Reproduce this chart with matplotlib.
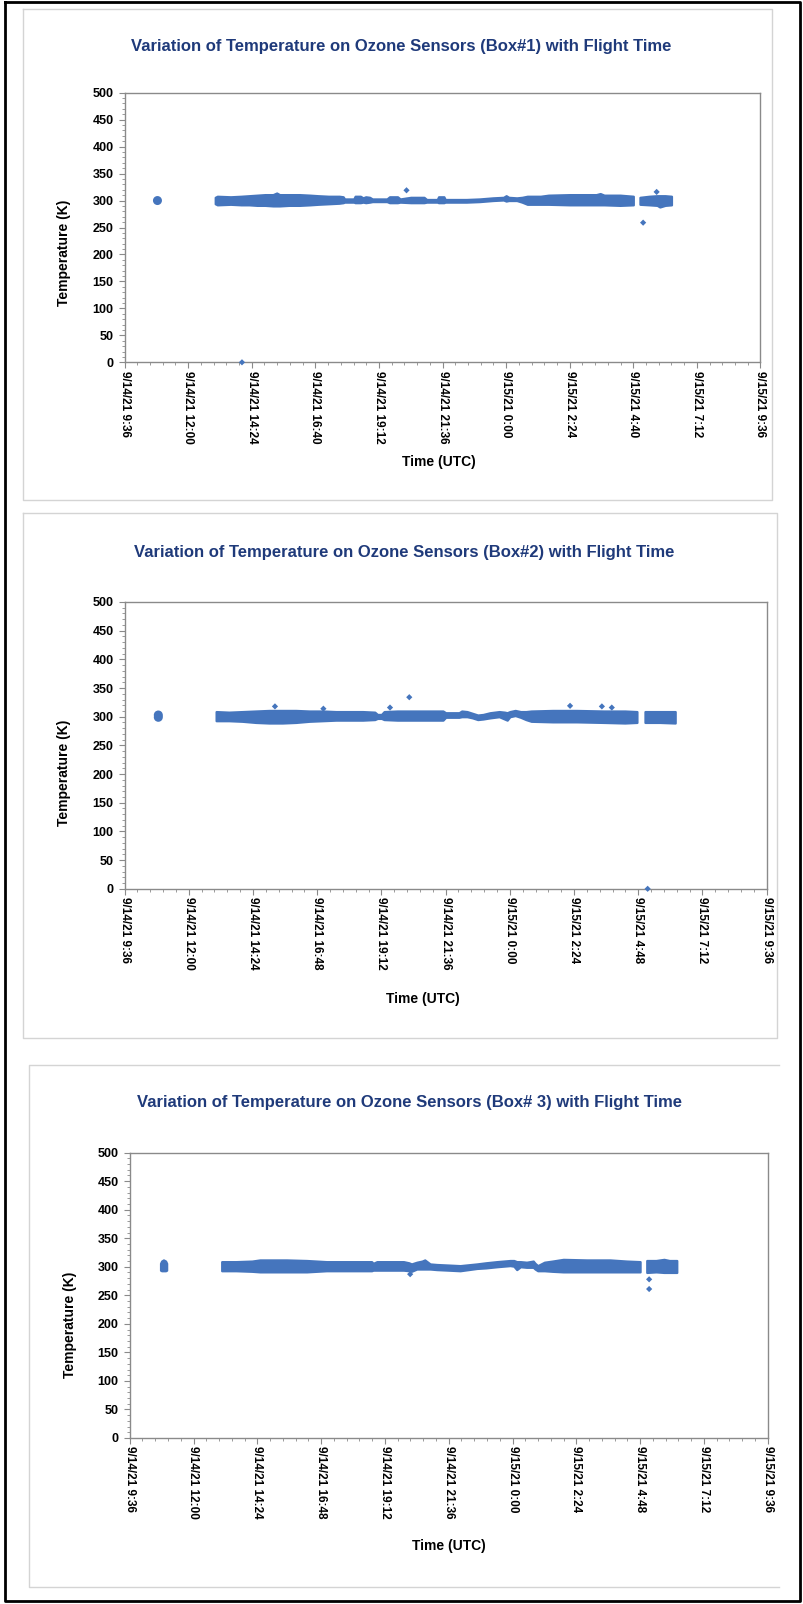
import matplotlib
matplotlib.use("Agg")
import matplotlib.pyplot as plt
from matplotlib.ticker import MultipleLocator, FixedLocator
from matplotlib.lines import Line2D

plt.rcParams['font.family'] = ['Liberation Sans', 'DejaVu Sans']

# ---------------- data (hours since 9/14/21 0:00, temperature K) ----------------
tick_hours = [9.6, 12.0, 14.4, 16.8, 19.2, 21.6, 24.0, 26.4, 28.8, 31.2, 33.6]
p1_tick_labels = ["9/14/21 9:36", "9/14/21 12:00", "9/14/21 14:24", "9/14/21 16:40",
                  "9/14/21 19:12", "9/14/21 21:36", "9/15/21 0:00", "9/15/21 2:24",
                  "9/15/21 4:40", "9/15/21 7:12", "9/15/21 9:36"]
p23_tick_labels = ["9/14/21 9:36", "9/14/21 12:00", "9/14/21 14:24", "9/14/21 16:48",
                   "9/14/21 19:12", "9/14/21 21:36", "9/15/21 0:00", "9/15/21 2:24",
                   "9/15/21 4:48", "9/15/21 7:12", "9/15/21 9:36"]

# Box 1 : dense band envelope
p1_band_t = [13.02, 13.1, 13.6, 14.0, 14.3, 14.6, 14.9, 15.2, 15.34, 15.45, 15.8, 16.2,
             16.6, 16.9, 17.3, 17.7, 17.85, 17.9, 18.25, 18.3, 18.5, 18.6, 18.7, 18.85,
             18.95, 19.5, 19.6, 19.9, 20.0, 20.4, 20.9, 21.0, 21.4, 21.45, 21.65, 21.7,
             22.5, 23.0, 23.5, 23.9, 24.0, 24.1, 24.4, 24.6, 24.8, 25.3, 25.6, 26.4,
             27.0, 27.4, 27.55, 27.7, 28.3, 28.8]
p1_band_lo = [294, 292, 293, 292, 292, 291, 291, 290, 290, 290, 291, 291,
              292, 293, 294, 295, 296, 297, 297, 296, 296, 297, 296, 297,
              298, 298, 296, 296, 297, 296, 296, 297, 297, 296, 296, 297,
              297, 298, 300, 301, 299, 300, 300, 297, 293, 293, 293, 292,
              292, 292, 292, 292, 291, 292]
p1_band_hi = [306, 308, 307, 308, 309, 310, 311, 311, 314, 311, 311, 311,
              310, 309, 308, 308, 307, 303, 303, 308, 308, 305, 307, 306,
              303, 303, 307, 307, 303, 306, 306, 302, 302, 307, 307, 302,
              302, 303, 305, 306, 309, 306, 305, 306, 308, 308, 310, 311,
              311, 311, 313, 310, 310, 308]
p1_band2_t = [29.05, 29.4, 29.7, 29.8, 30.0, 30.24]
p1_band2_lo = [293, 292, 291, 288, 291, 292]
p1_band2_hi = [306, 308, 309, 309, 309, 308]
p1_big_t = [10.84]
p1_big_y = [300]
p1_pts_t = [14.03, 20.24, 29.17, 29.68]
p1_pts_y = [0, 319, 259, 316]

# Box 2
p2_band_t = [13.02, 13.5, 14.0, 14.5, 15.0, 15.5, 16.0, 16.5, 17.0, 17.5, 18.5, 18.95,
             19.05, 19.2, 19.3, 19.8, 20.3, 21.0, 21.5, 21.6, 22.1, 22.2, 22.4, 22.6,
             22.8, 23.0, 23.26, 23.6, 23.8, 23.9, 24.0, 24.2, 24.4, 24.6, 24.8, 25.6,
             26.5, 27.5, 28.3, 28.75]
p2_band_lo = [293, 293, 292, 290, 289, 289, 290, 292, 293, 294, 294, 295,
              297, 297, 295, 294, 294, 294, 294, 299, 299, 300, 300, 298,
              295, 296, 298, 300, 296, 294, 300, 302, 299, 295, 292, 291,
              291, 290, 289, 290]
p2_band_hi = [309, 308, 309, 310, 311, 311, 311, 310, 310, 309, 309, 308,
              304, 304, 309, 310, 310, 310, 310, 307, 307, 310, 309, 306,
              303, 304, 307, 309, 308, 307, 309, 311, 309, 309, 310, 311,
              311, 310, 310, 309]
p2_band2_t = [29.05, 29.6, 30.18]
p2_band2_lo = [290, 290, 289]
p2_band2_hi = [309, 309, 309]
p2_big_t = [10.86, 10.86]
p2_big_y = [299, 303]
p2_pts_t = [15.22, 17.03, 19.52, 20.24, 26.25, 27.44, 27.81, 29.15]
p2_pts_y = [318, 314, 316, 334, 319, 318, 316, 0]

# Box 3
p3_band_t = [13.06, 13.6, 14.2, 14.5, 15.5, 16.26, 17.0, 18.7, 18.76, 18.9, 19.9, 20.1,
             20.2, 20.4, 20.6, 20.7, 20.9, 21.15, 21.6, 22.03, 22.66, 23.0, 23.41, 23.91,
             24.05, 24.16, 24.3, 24.53, 24.78, 24.85, 24.95, 25.2, 25.5, 25.91, 26.8,
             27.67, 28.3, 28.8]
p3_band_lo = [293, 293, 292, 291, 291, 291, 293, 293, 294, 294, 294, 293,
              292, 296, 296, 296, 296, 295, 294, 293, 297, 298, 300, 302,
              301, 295, 300, 299, 299, 296, 293, 293, 292, 291, 291,
              291, 291, 291]
p3_band_hi = [309, 309, 310, 312, 312, 311, 309, 309, 306, 309, 309, 307,
              305, 308, 310, 312, 305, 304, 303, 302, 305, 307, 309, 311,
              311, 309, 309, 308, 310, 306, 302, 308, 310, 313, 312,
              312, 310, 309]
p3_band2_t = [29.05, 29.4, 29.7, 29.9, 30.18]
p3_band2_lo = [290, 291, 290, 290, 290]
p3_band2_hi = [311, 311, 313, 311, 311]
p3_blob_t = [10.76, 10.8, 10.87, 10.95, 10.99]
p3_blob_lo = [294, 293, 293, 293, 294]
p3_blob_hi = [306, 310, 312, 310, 306]
p3_pts_t = [20.15, 29.14, 29.14]
p3_pts_y = [287, 278, 261]

titles = ["Variation of Temperature on Ozone Sensors (Box#1) with Flight Time",
          "Variation of Temperature on Ozone Sensors (Box#2) with Flight Time",
          "Variation of Temperature on Ozone Sensors (Box# 3) with Flight Time"]

# ---------------- figure ----------------
W, H = 804, 1604
fig = plt.figure(figsize=(W / 100, H / 100), dpi=100)
fig.patch.set_facecolor('white')

BLUE = '#4575bd'
TITLE_C = '#1f3a7a'
SPINE_C = '#8a8a8a'


def fx(x):
    return x / W


def fy(y):
    return 1 - y / H


def fig_line(xs, ys, color, lw):
    fig.add_artist(Line2D([fx(x) for x in xs], [fy(y) for y in ys],
                          transform=fig.transFigure, color=color, lw=lw,
                          solid_capstyle='projecting'))


# outer black border
fig_line([5, 800, 800, 5, 5], [2, 2, 1601, 1601, 2], 'black', 2.0)

# panel boxes
fig_line([23, 772, 772, 23, 23], [9, 9, 500, 500, 9], '#d4d4d4', 1.0)
fig_line([23, 777, 777, 23, 23], [513, 513, 1038, 1038, 513], '#d4d4d4', 1.0)
fig_line([779, 29, 29, 779], [1065, 1065, 1587, 1587], '#d4d4d4', 1.0)


def make_panel(rect, tick_labels, bands, big, pts, title, title_xy, xlab_xy, ylab_xy):
    left, top, right, bottom = rect
    ax = fig.add_axes([fx(left), fy(bottom), fx(right) - fx(left), fy(top) - fy(bottom)])
    for (t, lo, hi) in bands:
        ax.fill_between(t, lo, hi, color=BLUE, lw=1.6, edgecolor=BLUE, zorder=3,
                        joinstyle='round')
    if big is not None:
        ax.scatter(big[0], big[1], s=42, color=BLUE, edgecolors='none', zorder=4)
    ax.scatter(pts[0], pts[1], s=10, marker='D', color=BLUE, edgecolors='none', zorder=4,
               clip_on=False)
    ax.set_xlim(tick_hours[0], tick_hours[-1])
    ax.set_ylim(0, 500)
    ax.xaxis.set_major_locator(FixedLocator(tick_hours))
    ax.xaxis.set_minor_locator(MultipleLocator(0.48))
    ax.yaxis.set_major_locator(MultipleLocator(50))
    ax.yaxis.set_minor_locator(MultipleLocator(10))
    ax.set_xticklabels(tick_labels, rotation=270, fontsize=8.5, fontweight='bold')
    for lab in ax.get_yticklabels():
        lab.set_fontsize(9)
        lab.set_fontweight('bold')
    ax.tick_params(axis='both', which='major', direction='out', length=4, width=0.8,
                   color=SPINE_C, pad=2)
    ax.tick_params(axis='both', which='minor', direction='out', length=2, width=0.6,
                   color=SPINE_C)
    ax.tick_params(axis='y', which='major', pad=4)
    for s in ax.spines.values():
        s.set_color(SPINE_C)
        s.set_linewidth(1.0)
    fig.text(fx(title_xy[0]), fy(title_xy[1]), title, ha='center', va='center',
             fontsize=12, fontweight='bold', color=TITLE_C)
    fig.text(fx(xlab_xy[0]), fy(xlab_xy[1]), "Time (UTC)", ha='center', va='center',
             fontsize=10, fontweight='bold', color='black')
    fig.text(fx(ylab_xy[0]), fy(ylab_xy[1]), "Temperature (K)", ha='center', va='center',
             rotation=90, fontsize=10, fontweight='bold', color='black')
    return ax


make_panel((124.6, 92.7, 760.5, 362.3), p1_tick_labels,
           [(p1_band_t, p1_band_lo, p1_band_hi), (p1_band2_t, p1_band2_lo, p1_band2_hi)],
           (p1_big_t, p1_big_y), (p1_pts_t, p1_pts_y), titles[0],
           (401, 46), (439, 462), (64, 253))

make_panel((124.6, 602, 766.7, 888.8), p23_tick_labels,
           [(p2_band_t, p2_band_lo, p2_band_hi), (p2_band2_t, p2_band2_lo, p2_band2_hi)],
           (p2_big_t, p2_big_y), (p2_pts_t, p2_pts_y), titles[1],
           (404, 552), (423, 999), (64, 773))

make_panel((129.7, 1152.6, 767.7, 1438), p23_tick_labels,
           [(p3_band_t, p3_band_lo, p3_band_hi), (p3_band2_t, p3_band2_lo, p3_band2_hi),
            (p3_blob_t, p3_blob_lo, p3_blob_hi)],
           None, (p3_pts_t, p3_pts_y), titles[2],
           (410, 1102), (449, 1546), (70, 1325))

fig.savefig("out.png", dpi=100, facecolor='white')
